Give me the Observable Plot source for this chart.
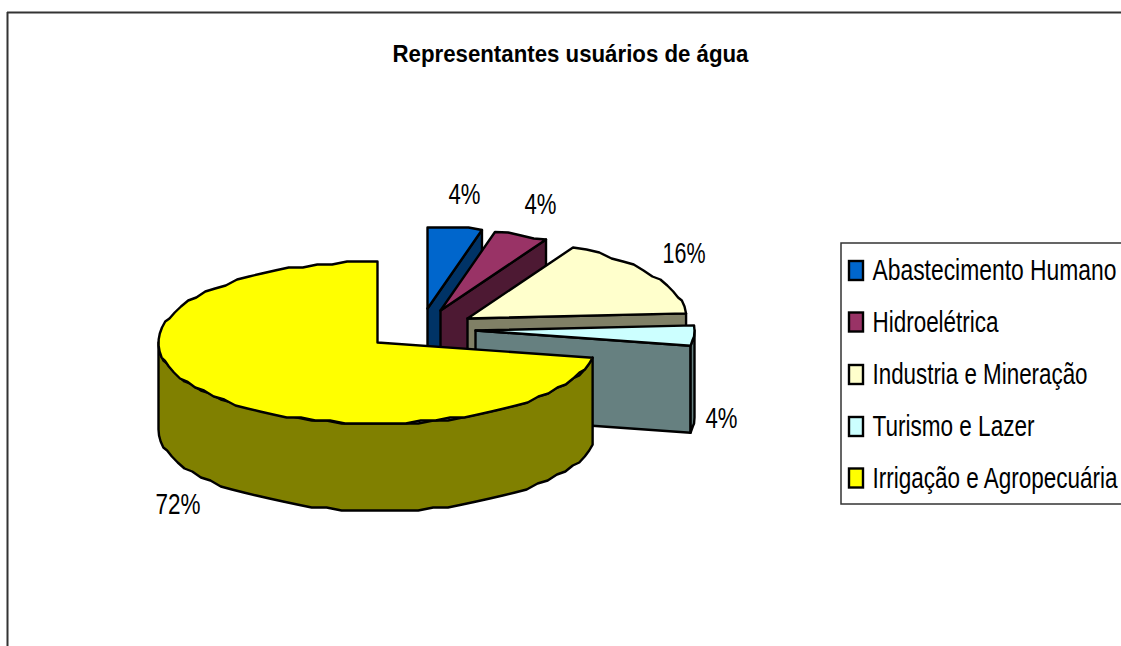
<!DOCTYPE html>
<html lang="pt">
<head>
<meta charset="utf-8">
<title>Representantes usuários de água</title>
<style>
html,body{margin:0;padding:0;background:#fff;overflow:hidden}
svg{display:block}
</style>
<script src="https://cdn.jsdelivr.net/npm/d3@7"></script>
<script src="https://cdn.jsdelivr.net/npm/@observablehq/plot@0.6"></script>
</head>
<body>
<div id="chart"></div>
<script>
// ---- data ----
const title = "Representantes usuários de água";
const categories = ["Abastecimento Humano", "Hidroelétrica", "Industria e Mineração", "Turismo e Lazer", "Irrigação e Agropecuária"];
const shares = [4, 4, 16, 4, 72];
const pctLabels = ["4%", "4%", "16%", "4%", "72%"];
// ---- styles ----
const topColors = ["#0066CC", "#993366", "#FFFFCC", "#CCFFFF", "#FFFF00"];
const wallColors = ["#003366", "#4D1933", "#808066", "#668080", "#808000"];
// ---- layout ----
const W = 1121, H = 646;
const rx = 219, ry = 81, depth = 87;
const apexes = [[427, 308], [440, 310], [467, 318], [475, 330], [377, 342]];
const pctPos = [[464, 194], [540, 204.5], [683.5, 253.5], [721, 418], [177.5, 504]];
const pctWidths = [32, 32, 43, 32, 45];
const legendWidths = [244, 126, 215, 162, 245];
const legendRowY = [270.5, 322, 374.5, 426.5, 478];
const labelFontSize = 22, labelStretchY = 1.3;
const snap = 3; // the source's rim is slightly stepped, not smooth

const rad = a => a * Math.PI / 180;
const rim = (apex, a) => [apex[0] + rx * Math.sin(rad(a)), apex[1] - ry * Math.cos(rad(a))];
const drop = p => [p[0], p[1] + depth];
function arc(apex, a0, a1, step = 4) {
  const n = Math.max(1, Math.round(Math.abs(a1 - a0) / step));
  return d3.range(n + 1).map(i => {
    const p = rim(apex, a0 + (a1 - a0) * i / n);
    if (i === 0 || i === n) return p;
    return [p[0], apex[1] + Math.round((p[1] - apex[1]) / snap) * snap];
  });
}

// Build the faces of the exploded 3D pie from the shares, back to front
const polys = [];
const add = (pts, fill) => {
  const id = polys.length ? polys[polys.length - 1].id + 1 : 0;
  [...pts, pts[0]].forEach(p => polys.push({id, x: p[0], y: p[1], fill}));
};
let start = 0;
shares.forEach((s, i) => {
  const end = start + s / d3.sum(shares) * 360;
  const apex = apexes[i];
  // cut face on the clockwise side, only when it faces the viewer
  if (end < 180) {
    const e = rim(apex, end);
    add([apex, e, drop(e), drop(apex)], wallColors[i]);
  }
  // outer rim wall for the front half of the ellipse
  const f0 = Math.max(start, 90), f1 = Math.min(end, 270);
  if (f1 > f0) {
    const edge = arc(apex, f0, f1);
    add([...edge, ...edge.slice().reverse().map(drop)], wallColors[i]);
  }
  // top face
  add([apex, ...arc(apex, start, end)], topColors[i]);
  start = end;
});

const legendRows = categories.map((c, i) => ({c, i, y: legendRowY[i], fill: topColors[i]}));
const pctRows = pctLabels.map((t, i) => ({t, x: pctPos[i][0], y: pctPos[i][1]}));

const font = "Liberation Sans";
const plot = Plot.plot({
  width: W, height: H, margin: 0,
  x: {domain: [0, W], range: [0, W], axis: null},
  y: {domain: [0, H], range: [0, H], axis: null},
  style: {background: "#fff", fontFamily: font},
  marks: [
    // chart frame, open to the right and bottom
    Plot.ruleY([12], {x1: 7, x2: W, stroke: "#333", strokeWidth: 2}),
    Plot.ruleX([7], {y1: 12, y2: H, stroke: "#333", strokeWidth: 2}),
    Plot.text([title], {x: 570, y: 54, text: d => d, fontSize: 24, fontWeight: "bold", fill: "#000", lineAnchor: "middle"}),
    Plot.line(polys, {x: "x", y: "y", z: "id", fill: "fill", stroke: "#000", strokeWidth: 2.4, strokeLinejoin: "round", curve: "linear"}),
    Plot.text(pctRows, {x: "x", y: "y", text: "t", fontSize: labelFontSize, fill: "#000", lineAnchor: "middle"}),
    // legend
    Plot.rect([0], {x1: 841, x2: W + 4, y1: 243, y2: 504, fill: "#fff", stroke: "#333", strokeWidth: 1.5}),
    Plot.rect(legendRows, {x1: 849, x2: 863, y1: d => d.y - 9.5, y2: d => d.y + 9.5, fill: "fill", stroke: "#000", strokeWidth: 2.4}),
    Plot.text(legendRows, {x: 872, y: "y", text: "c", fontSize: labelFontSize, textAnchor: "start", fill: "#000", lineAnchor: "middle"})
  ]
});

// The source font is tall and narrow: fit each string to its width and stretch it vertically
const fit = new Map([[title, 356], ...categories.map((c, i) => [c, legendWidths[i]]), ...pctLabels.map((p, i) => [p, pctWidths[i]])]);
plot.querySelectorAll("text").forEach(t => {
  const w = fit.get(t.textContent);
  if (w) { t.setAttribute("textLength", w); t.setAttribute("lengthAdjust", "spacingAndGlyphs"); }
  if (t.textContent !== title) t.setAttribute("transform", (t.getAttribute("transform") || "") + ` scale(1,${labelStretchY})`);
});
document.getElementById("chart").append(plot);
</script>
</body>
</html>
